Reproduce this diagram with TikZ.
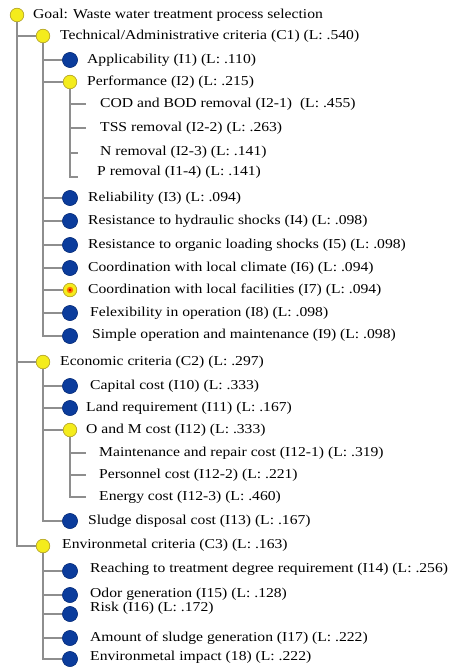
\documentclass[tikz,border=0pt]{standalone}
\usepackage{fontspec}
\setmainfont{Liberation Serif}[FakeStretch=1.15]
\definecolor{lnc}{HTML}{8E8E8E}
\definecolor{ylw}{HTML}{F4EC1C}
\definecolor{ylwb}{HTML}{B8A830}
\definecolor{blu}{HTML}{0B3C9C}
\definecolor{blub}{HTML}{0A2E78}
\tikzset{
  conn/.style={draw=lnc, line width=1.7pt},
  ynode/.style={circle, fill=ylw, draw=ylwb, line width=0.6pt, minimum size=13.5pt, inner sep=0pt},
  bnode/.style={circle, fill=blu, draw=blub, line width=0.4pt, minimum size=15pt, inner sep=0pt},
  lbl/.style={anchor=mid west, inner sep=0pt, yshift=-1.5pt, font=\fontsize{13.6}{15}\selectfont, text=black}
}
\begin{document}
\begin{tikzpicture}[x=1pt,y=-1pt]
\useasboundingbox[fill=white] (0,0) rectangle (474,669);
% level nodes
\node[ynode] (goal) at (17,15) {};
\node[ynode] (c1) at (43,36) {};
\node[bnode] (i1) at (70,60) {};
\node[ynode] (i2) at (70,82) {};
\coordinate (i21) at (86,104);
\coordinate (i22) at (86,128);
\coordinate (i23) at (78,153);
\coordinate (i24) at (78,177);
\node[bnode] (i3) at (70,198) {};
\node[bnode] (i4) at (70,221) {};
\node[bnode] (i5) at (70,245) {};
\node[bnode] (i6) at (70,268) {};
\node[ynode] (i7) at (70,290) {};
\node[bnode] (i8) at (70,313) {};
\node[bnode] (i9) at (70,336) {};
\node[ynode] (c2) at (43,362) {};
\node[bnode] (i10) at (70,386) {};
\node[bnode] (i11) at (70,408) {};
\node[ynode] (i12) at (70,430) {};
\coordinate (i121) at (86,453);
\coordinate (i122) at (86,475);
\coordinate (i123) at (86,497);
\node[bnode] (i13) at (70,521) {};
\node[ynode] (c3) at (43,546) {};
\node[bnode] (i14) at (70,571) {};
\node[bnode] (i15) at (70,595) {};
\node[bnode] (i16) at (70,614) {};
\node[bnode] (i17) at (70,638) {};
\node[bnode] (i18) at (70,659) {};
% connectors
\foreach \p/\c in {goal/c1, goal/c2, goal/c3,
  c1/i1, c1/i2, c1/i3, c1/i4, c1/i5, c1/i6, c1/i7, c1/i8, c1/i9,
  c2/i10, c2/i11, c2/i12, c2/i13,
  c3/i14, c3/i15, c3/i16, c3/i17, c3/i18}
  \draw[conn] (\p.south) |- (\c.west);
\foreach \c in {i21,i22,i23,i24}
  \draw[conn] (i2.south) |- (\c);
\foreach \c in {i121,i122,i123}
  \draw[conn] (i12.south) |- (\c);
% redraw circles on top
\foreach \n in {goal,c1,i2,i7,c2,i12,c3}
  \node[ynode] at (\n) {};
\foreach \n in {i1,i3,i4,i5,i6,i8,i9,i10,i11,i13,i14,i15,i16,i17,i18}
  \node[bnode] at (\n) {};
\fill[orange!90!red] (i7) circle (3.2pt);
\fill[red!85!black] (i7) circle (1.3pt);
% labels
\node[lbl] (tgoal) at (33,15) {Goal: Waste water treatment process selection};
\node[lbl] (tc1) at (60,36) {Technical/Administrative criteria (C1) (L: .540)};
\node[lbl] (ti1) at (87,60) {Applicability (I1) (L: .110)};
\node[lbl] (ti2) at (87,82) {Performance (I2) (L: .215)};
\node[lbl] (ti21) at (100,104) {COD and BOD removal (I2-1)\ \ (L: .455)};
\node[lbl] (ti22) at (100,128) {TSS removal (I2-2) (L: .263)};
\node[lbl] (ti23) at (100,152) {N removal (I2-3) (L: .141)};
\node[lbl] (ti24) at (97,172) {P removal (I1-4) (L: .141)};
\node[lbl] (ti3) at (88,198) {Reliability (I3) (L: .094)};
\node[lbl] (ti4) at (88,221) {Resistance to hydraulic shocks (I4) (L: .098)};
\node[lbl] (ti5) at (88,245) {Resistance to organic loading shocks (I5) (L: .098)};
\node[lbl] (ti6) at (88,268) {Coordination with local climate (I6) (L: .094)};
\node[lbl] (ti7) at (88,290) {Coordination with local facilities (I7) (L: .094)};
\node[lbl] (ti8) at (90,313) {Felexibility in operation (I8) (L: .098)};
\node[lbl] (ti9) at (92,335) {Simple operation and maintenance (I9) (L: .098)};
\node[lbl] (tc2) at (60,362) {Economic criteria (C2) (L: .297)};
\node[lbl] (ti10) at (90,386) {Capital cost (I10) (L: .333)};
\node[lbl] (ti11) at (86,408) {Land requirement (I11) (L: .167)};
\node[lbl] (ti12) at (86,430) {O and M cost (I12) (L: .333)};
\node[lbl] (ti121) at (99,453) {Maintenance and repair cost (I12-1) (L: .319)};
\node[lbl] (ti122) at (99,475) {Personnel cost (I12-2) (L: .221)};
\node[lbl] (ti123) at (99,497) {Energy cost (I12-3) (L: .460)};
\node[lbl] (ti13) at (88,521) {Sludge disposal cost (I13) (L: .167)};
\node[lbl] (tc3) at (62,545) {Environmetal criteria (C3) (L: .163)};
\node[lbl] (ti14) at (90,569) {Reaching to treatment degree requirement (I14) (L: .256)};
\node[lbl] (ti15) at (90,594) {Odor generation (I15) (L: .128)};
\node[lbl] (ti16) at (90,608) {Risk (I16) (L: .172)};
\node[lbl] (ti17) at (90,638) {Amount of sludge generation (I17) (L: .222)};
\node[lbl] (ti18) at (90,657) {Environmetal impact (18) (L: .222)};
\end{tikzpicture}
\end{document}
